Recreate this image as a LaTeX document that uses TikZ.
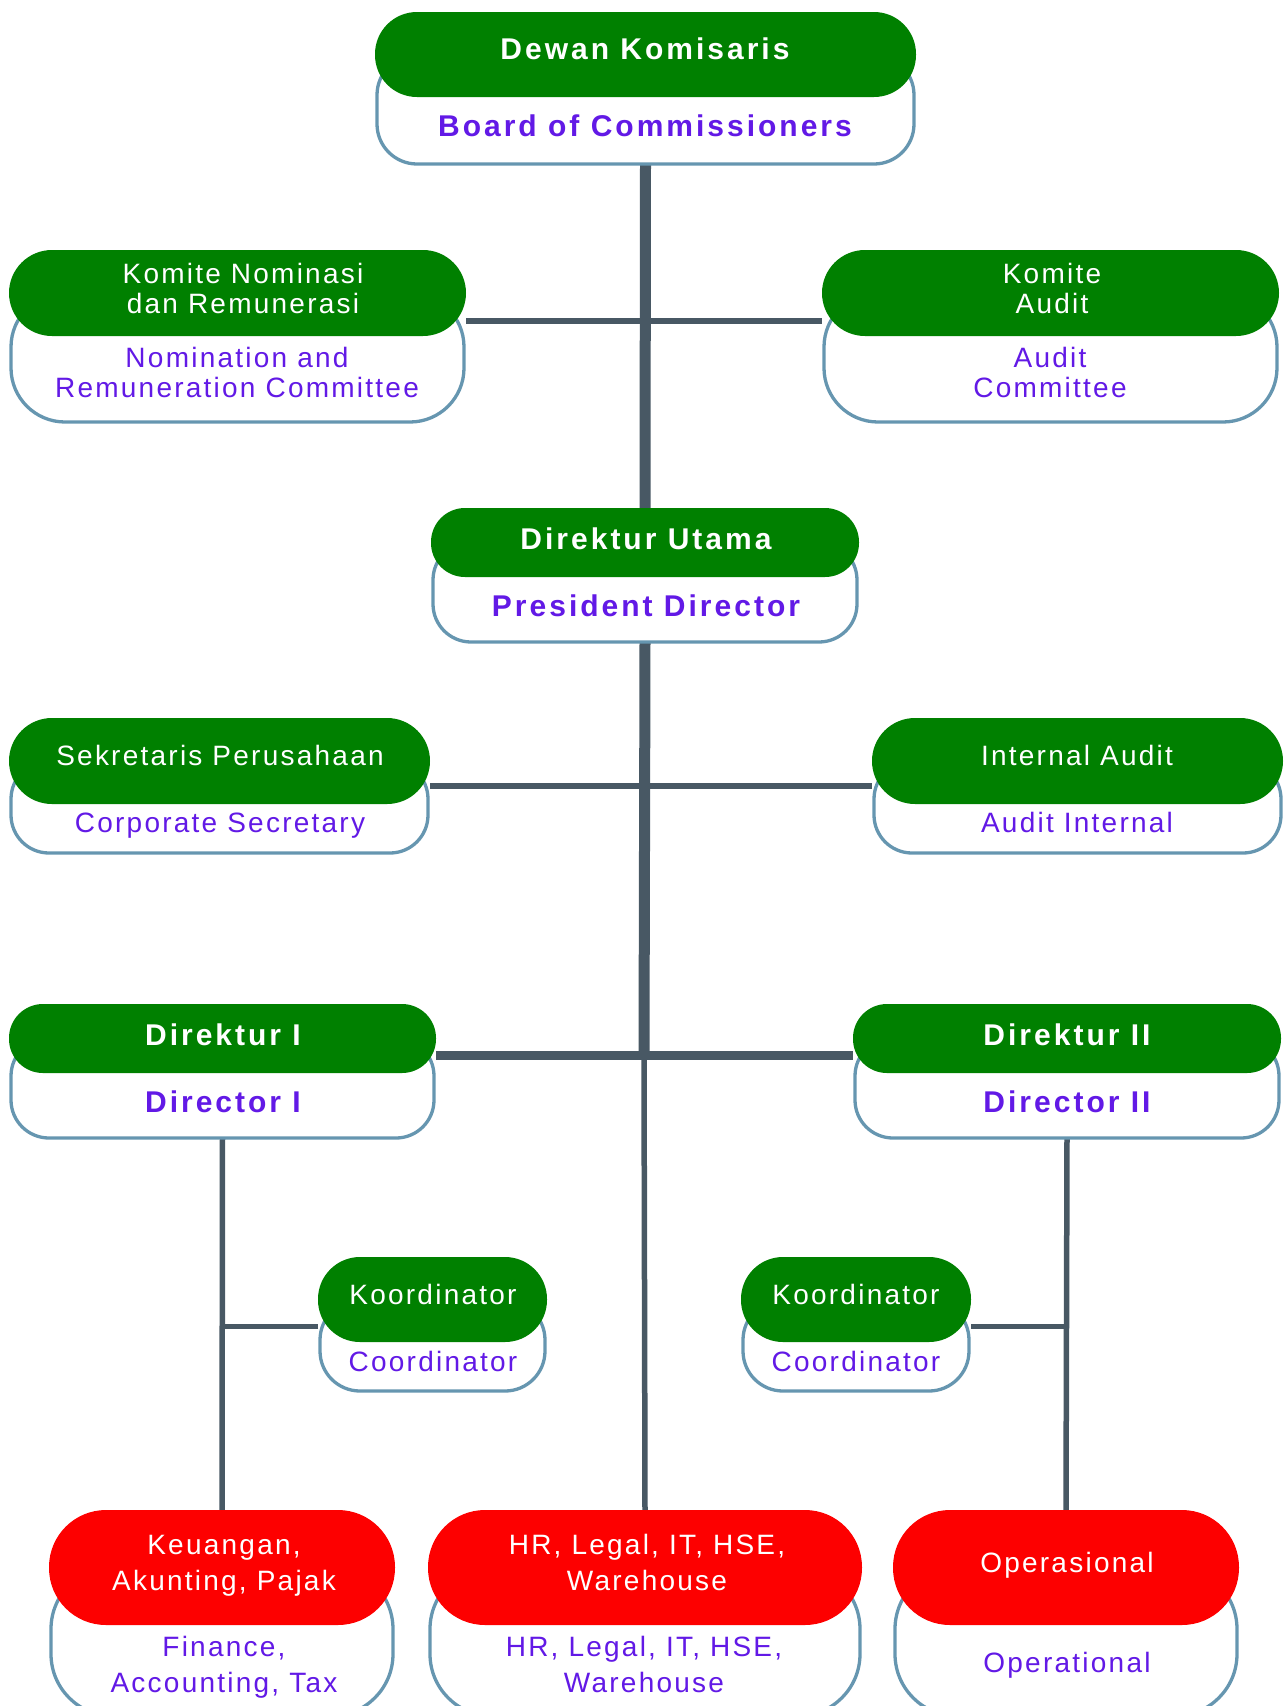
\documentclass[tikz,border=0pt]{standalone}
\usepackage{fontspec}
\setmainfont{Liberation Sans}[LetterSpace=8, BoldFeatures={LetterSpace=10}]
\usetikzlibrary{backgrounds}
\definecolor{dg}{RGB}{0,128,0}
\definecolor{rd}{RGB}{253,0,0}
\definecolor{pu}{RGB}{98,25,230}
\definecolor{ol}{RGB}{102,150,176}
\definecolor{cn}{RGB}{72,88,100}
\newcommand{\fsr}{\fontsize{28}{30}\selectfont}
\newcommand{\fsb}{\fontsize{30}{32}\selectfont\bfseries}
\newcommand{\fsn}{\fontsize{28}{36}\selectfont}
\tikzset{
  box/.style={shape=rectangle, inner sep=0pt, outer sep=0pt},
  gbox/.style={box, fill=dg},
  rbox/.style={box, fill=rd},
  wbox/.style={box, fill=white, draw=ol, line width=3.3pt},
  wtxt/.style={text=white, align=center, anchor=base, inner sep=0pt},
  ptxt/.style={text=pu, align=center, anchor=base, inner sep=0pt},
  link/.style={draw=cn, line width=5.5pt},
  heavylink/.style={draw=cn, line width=11pt},
  barlink/.style={draw=cn, line width=9pt},
}
\begin{document}
\begin{tikzpicture}[x=1pt,y=-1pt]
\useasboundingbox (0,0) rectangle (1284,1706);
\clip (0,0) rectangle (1284,1706);

% Board
\node[wbox, minimum width=537pt, minimum height=109pt, rounded corners=40pt] (dkw) at (645.5,109.5) {};
\node[gbox, minimum width=541pt, minimum height=85pt, rounded corners=42pt] (dkg) at (645.5,54.5) {};
\node[wtxt, font=\fsb] (dkt) at (645,59) {Dewan Komisaris};
\node[ptxt, font=\fsb] (dke) at (645,136) {Board of Commissioners};

% Nomination committee
\node[wbox, minimum width=453pt, minimum height=129pt, rounded corners=54pt] (knw) at (237.5,357.5) {};
\node[gbox, minimum width=457pt, minimum height=86pt, rounded corners=43pt] (kng) at (237.5,293) {};
\node[wtxt, font=\fsr] (knt) at (243,313) {Komite Nominasi\\dan Remunerasi};
\node[ptxt, font=\fsr] (kne) at (237,397) {Nomination and\\Remuneration Committee};

% Audit committee
\node[wbox, minimum width=453pt, minimum height=129pt, rounded corners=54pt] (kaw) at (1050.5,357.5) {};
\node[gbox, minimum width=457pt, minimum height=86pt, rounded corners=43pt] (kag) at (1050.5,293) {};
\node[wtxt, font=\fsr] (kat) at (1052,313) {Komite\\Audit};
\node[ptxt, font=\fsr] (kae) at (1050,397) {Audit\\Committee};

% President Director
\node[wbox, minimum width=424pt, minimum height=100pt, rounded corners=38pt] (duw) at (645,592) {};
\node[gbox, minimum width=428pt, minimum height=69pt, rounded corners=34pt] (dug) at (645,542.5) {};
\node[wtxt, font=\fsb] (dut) at (646,549) {Direktur Utama};
\node[ptxt, font=\fsb] (due) at (646,616) {President Director};

% Corporate secretary
\node[wbox, minimum width=417pt, minimum height=92pt, rounded corners=38pt] (spw) at (219.5,807) {};
\node[gbox, minimum width=421pt, minimum height=86pt, rounded corners=43pt] (spg) at (219.5,761) {};
\node[wtxt, font=\fsr] (spt) at (220,765) {Sekretaris Perusahaan};
\node[ptxt, font=\fsr] (spe) at (220,832) {Corporate Secretary};

% Internal audit
\node[wbox, minimum width=407pt, minimum height=92pt, rounded corners=38pt] (iaw) at (1077.5,807) {};
\node[gbox, minimum width=411pt, minimum height=86pt, rounded corners=43pt] (iag) at (1077.5,761) {};
\node[wtxt, font=\fsr] (iat) at (1077,765) {Internal Audit};
\node[ptxt, font=\fsr] (iae) at (1077,832) {Audit Internal};

% Director I
\node[wbox, minimum width=423pt, minimum height=100pt, rounded corners=38pt] (d1w) at (222.5,1088) {};
\node[gbox, minimum width=427pt, minimum height=69pt, rounded corners=34pt] (d1g) at (222.5,1038.5) {};
\node[wtxt, font=\fsb] (d1t) at (223,1045) {Direktur I};
\node[ptxt, font=\fsb] (d1e) at (223,1112) {Director I};

% Director II
\node[wbox, minimum width=424pt, minimum height=100pt, rounded corners=38pt] (d2w) at (1067,1088) {};
\node[gbox, minimum width=428pt, minimum height=69pt, rounded corners=34pt] (d2g) at (1067,1038.5) {};
\node[wtxt, font=\fsb] (d2t) at (1067,1045) {Direktur II};
\node[ptxt, font=\fsb] (d2e) at (1067,1112) {Director II};

% Coordinators
\node[wbox, minimum width=225pt, minimum height=91pt, rounded corners=40pt] (k1w) at (432.5,1345.5) {};
\node[gbox, minimum width=229pt, minimum height=85pt, rounded corners=42pt] (k1g) at (432.5,1299.5) {};
\node[wtxt, font=\fsr] (k1t) at (433,1304) {Koordinator};
\node[ptxt, font=\fsr] (k1e) at (433,1371) {Coordinator};

\node[wbox, minimum width=226pt, minimum height=91pt, rounded corners=40pt] (k2w) at (856,1345.5) {};
\node[gbox, minimum width=230pt, minimum height=85pt, rounded corners=42pt] (k2g) at (856,1299.5) {};
\node[wtxt, font=\fsr] (k2t) at (856,1304) {Koordinator};
\node[ptxt, font=\fsr] (k2e) at (856,1371) {Coordinator};

% Bottom units
\node[wbox, minimum width=342pt, minimum height=149pt, rounded corners=62pt] (b1w) at (222,1641.5) {};
\node[rbox, minimum width=346pt, minimum height=115pt, rounded corners=57pt] (b1r) at (222,1567.5) {};
\node[wtxt, font=\fsn] (b1t) at (224,1590) {Keuangan,\\Akunting, Pajak};
\node[ptxt, font=\fsn] (b1e) at (224,1692) {Finance,\\Accounting, Tax};

\node[wbox, minimum width=430pt, minimum height=149pt, rounded corners=62pt] (b2w) at (645,1641.5) {};
\node[rbox, minimum width=434pt, minimum height=115pt, rounded corners=57pt] (b2r) at (645,1567.5) {};
\node[wtxt, font=\fsn] (b2t) at (647,1590) {HR, Legal, IT, HSE,\\Warehouse};
\node[ptxt, font=\fsn] (b2e) at (644,1692) {HR, Legal, IT, HSE,\\Warehouse};

\node[wbox, minimum width=342pt, minimum height=149pt, rounded corners=62pt] (b3w) at (1066,1641.5) {};
\node[rbox, minimum width=346pt, minimum height=115pt, rounded corners=57pt] (b3r) at (1066,1567.5) {};
\node[wtxt, font=\fsn] (b3t) at (1067,1572) {Operasional};
\node[ptxt, font=\fsn] (b3e) at (1067,1672) {Operational};

% Connectors
\coordinate (j) at (644,1055);
\coordinate (k1c) at ([yshift=-27pt]k1g.west);
\coordinate (k2c) at ([yshift=-27pt]k2g.east);
\begin{scope}[on background layer]
  \draw[heavylink] (dkw.south) -- (dug.north);
  \draw[link] ([yshift=-28pt]kng.east) -- ([yshift=-28pt]kag.west);
  \draw[heavylink] (duw.south) -- (j);
  \draw[link] ([yshift=-25pt]spg.east) -- ([yshift=-25pt]iag.west);
  \draw[barlink] (d1g.east |- j) -- (d2g.west |- j);
  \draw[link] (j) -- (b2r.north);
  \draw[link] (d1w.south) -- (b1r.north);
  \draw[link] (k1c) -- (d1w.south |- k1c);
  \draw[link] (d2w.south) -- (b3r.north);
  \draw[link] (k2c) -- (d2w.south |- k2c);
\end{scope}
\end{tikzpicture}
\end{document}
